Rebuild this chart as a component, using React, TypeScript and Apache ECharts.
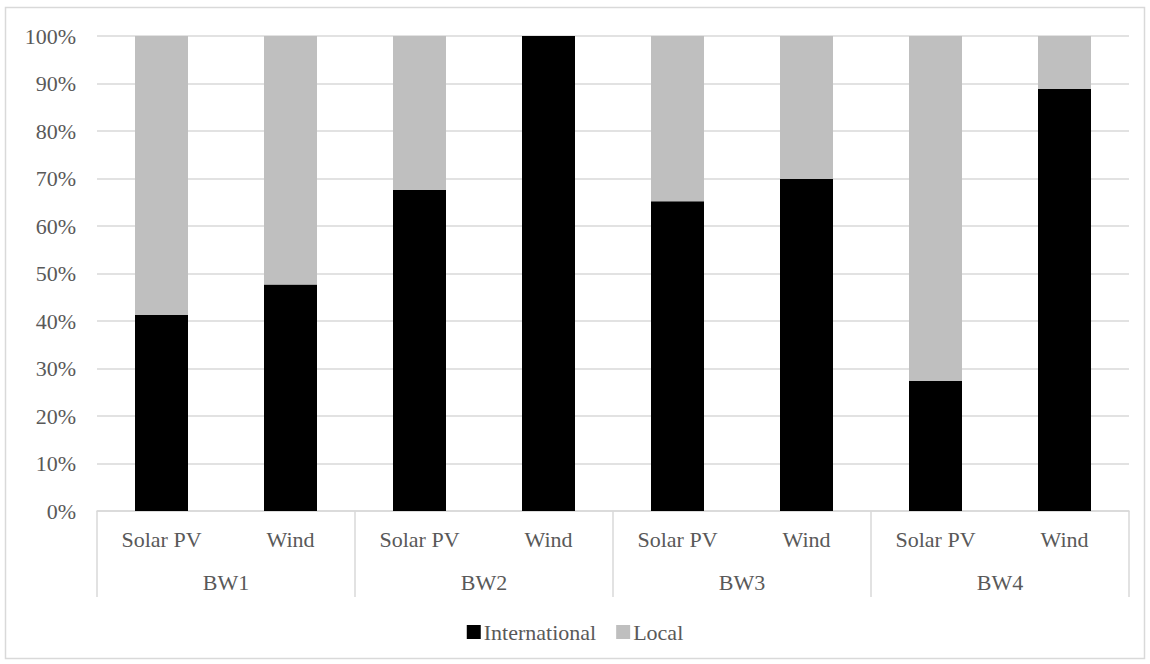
import React, { useEffect, useRef } from "react";
import * as echarts from "echarts";

const techCategories = ["Solar PV", "Wind", "Solar PV", "Wind", "Solar PV", "Wind", "Solar PV", "Wind"];
const groupCategories = ["BW1", "BW2", "BW3", "BW4"];
const internationalValues = [41.3, 47.7, 67.6, 100, 65.2, 69.9, 27.4, 88.9];
const localValues = [58.7, 52.3, 32.4, 0, 34.8, 30.1, 72.6, 11.1];
const seriesNames = ["International", "Local"];

const FONT = "Liberation Serif";
const TEXT = "#595959";
const LINE = "#d9d9d9";
const FS = 22;

export default function App() {
  const ref = useRef<HTMLDivElement>(null);
  useEffect(() => {
    if (!ref.current) return;
    const chart = echarts.init(ref.current, null, { renderer: "svg" });
    chart.setOption({
      animation: false,
      backgroundColor: "#ffffff",
      textStyle: { fontFamily: FONT },
      graphic: [
        {
          type: "rect",
          shape: { x: 5.5, y: 7.5, width: 1139, height: 651 },
          style: { fill: "none", stroke: LINE, lineWidth: 1.5 },
          silent: true,
        },
      ],
      grid: { left: 97, right: 21, top: 36, bottom: 153, containLabel: false },
      legend: {
        data: seriesNames,
        top: 616,
        left: "center",
        icon: "rect",
        itemWidth: 14,
        itemHeight: 14,
        itemGap: 20,
        textStyle: { fontFamily: FONT, fontSize: FS, color: TEXT, padding: [0, 0, 0, -2] },
      },
      xAxis: [
        {
          type: "category",
          data: techCategories,
          position: "bottom",
          axisLine: { show: true, lineStyle: { color: LINE, width: 1.5 } },
          axisTick: { show: false },
          axisLabel: { fontFamily: FONT, fontSize: FS, color: TEXT, margin: 17, interval: 0 },
          splitLine: { show: false },
        },
        {
          type: "category",
          data: groupCategories,
          position: "bottom",
          offset: 0,
          axisLine: { show: false },
          axisTick: { show: true, length: 86, lineStyle: { color: LINE, width: 1.5 } },
          axisLabel: { fontFamily: FONT, fontSize: FS, color: TEXT, margin: 60, interval: 0 },
          splitLine: { show: false },
        },
      ],
      yAxis: {
        type: "value",
        min: 0,
        max: 100,
        interval: 10,
        axisLine: { show: false },
        axisTick: { show: false },
        axisLabel: { fontFamily: FONT, fontSize: FS, color: TEXT, margin: 21, formatter: "{value}%" },
        splitLine: { show: true, lineStyle: { color: LINE, width: 1.5 } },
      },
      series: [
        {
          name: seriesNames[0],
          type: "bar",
          stack: "total",
          xAxisIndex: 0,
          barWidth: 53,
          data: internationalValues,
          itemStyle: { color: "#000000" },
        },
        {
          name: seriesNames[1],
          type: "bar",
          stack: "total",
          xAxisIndex: 0,
          barWidth: 53,
          data: localValues,
          itemStyle: { color: "#bfbfbf" },
        },
      ],
    });
    return () => chart.dispose();
  }, []);
  return (
    <div
      ref={ref}
      style={{ position: "fixed", left: 0, top: 0, width: 1150, height: 664 }}
    />
  );
}
